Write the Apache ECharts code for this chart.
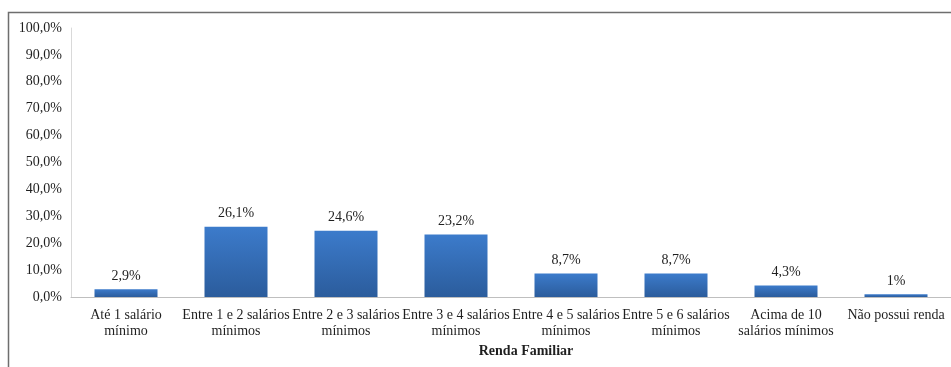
<!DOCTYPE html>
<html>
<head>
<meta charset="utf-8">
<script src="https://cdn.jsdelivr.net/npm/echarts@6/dist/echarts.min.js"></script>
<style>html,body{margin:0;padding:0;background:#fff;}#c{width:951px;height:367px;}</style>
</head>
<body>
<div id="c"></div>
<script>
var categories = ["Até 1 salário\nmínimo", "Entre 1 e 2 salários\nmínimos", "Entre 2 e 3 salários\nmínimos", "Entre 3 e 4 salários\nmínimos", "Entre 4 e 5 salários\nmínimos", "Entre 5 e 6 salários\nmínimos", "Acima de 10\nsalários mínimos", "Não possui renda"];
var values = [2.9, 26.1, 24.6, 23.2, 8.7, 8.7, 4.3, 1];
var valueLabels = ["2,9%", "26,1%", "24,6%", "23,2%", "8,7%", "8,7%", "4,3%", "1%"];
var yTicks = [0, 10, 20, 30, 40, 50, 60, 70, 80, 90, 100];

var font = "Liberation Serif";
var chart = echarts.init(document.getElementById('c'), null, {renderer: 'canvas'});
chart.setOption({
  animation: false,
  backgroundColor: '#fff',
  grid: {left: 71, right: 0, top: 28, bottom: 70},
  graphic: [{
    type: 'rect', silent: true,
    shape: {x: 8.5, y: 12.5, width: 1000, height: 400},
    style: {fill: 'none', stroke: '#6e6e6e', lineWidth: 1.5}
  }],
  xAxis: {
    type: 'category',
    data: categories,
    name: 'Renda Familiar',
    nameLocation: 'middle',
    nameGap: 47,
    nameTextStyle: {fontFamily: font, fontSize: 14, fontWeight: 'bold', color: '#1f1f1f', padding: [0, 0, 0, 30]},
    axisLine: {lineStyle: {color: '#bfbfbf', width: 1}},
    axisTick: {show: false},
    axisLabel: {fontFamily: font, fontSize: 14, color: '#1f1f1f', margin: 10, lineHeight: 16, interval: 0}
  },
  yAxis: {
    type: 'value',
    min: 0, max: 100, interval: 10,
    axisLine: {show: true, lineStyle: {color: '#d9d9d9'}},
    axisTick: {show: false},
    splitLine: {show: false},
    axisLabel: {
      fontFamily: font, fontSize: 14, color: '#1f1f1f', margin: 9,
      formatter: function (v) { return yTicks.indexOf(v) >= 0 ? v.toFixed(1).replace('.', ',') + '%' : ''; }
    }
  },
  series: [{
    type: 'bar',
    data: values,
    barWidth: 63,
    itemStyle: {
      color: new echarts.graphic.LinearGradient(0, 0, 0, 1, [
        {offset: 0, color: '#3c7bcb'},
        {offset: 1, color: '#2b5c9c'}
      ])
    },
    label: {
      show: true, position: 'top', distance: 6,
      fontFamily: font, fontSize: 14, color: '#1f1f1f',
      formatter: function (p) { return valueLabels[p.dataIndex]; }
    }
  }]
});
</script>
</body>
</html>
